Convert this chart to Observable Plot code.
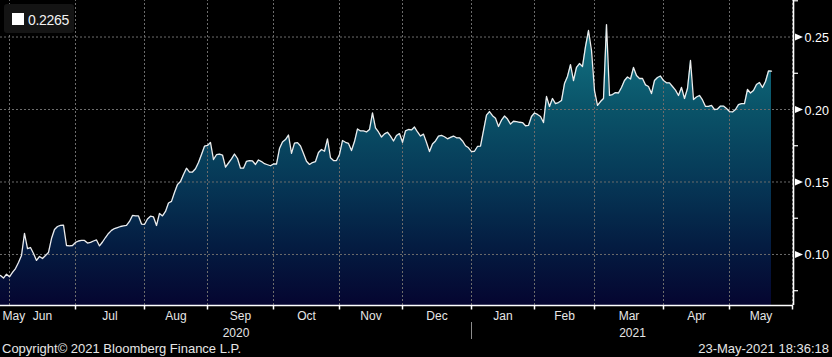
<!DOCTYPE html>
<html><head><meta charset="utf-8">
<script src="https://cdn.jsdelivr.net/npm/d3@7"></script>
<script src="https://cdn.jsdelivr.net/npm/@observablehq/plot@0.6"></script>
<style>
html,body{margin:0;padding:0;background:#000;}
#wrap{position:relative;width:832px;height:357px;overflow:hidden;background:#000;font-family:"Liberation Sans",Arial,sans-serif;}
#chart svg{display:block;}
#legend{position:absolute;left:4px;top:4px;width:70px;height:29px;background:#141414;border-radius:3px;}
#legend .sw{position:absolute;left:8px;top:9px;width:12px;height:12px;background:#fff;}
#legend .tx{position:absolute;left:24px;top:8px;font-size:14px;line-height:17px;color:#f2f2f2;letter-spacing:-0.3px;}
#footer{position:relative;height:17px;font-size:13px;line-height:17px;color:#e6e6e6;}
#footer .l{position:absolute;left:2px;top:0;}
#footer .r{position:absolute;right:3px;top:0;}
</style></head><body>
<div id="wrap">
  <div id="chart"></div>
  <div id="footer"><span class="l"></span><span class="r"></span></div>
  <div id="legend"><div class="sw"></div><div class="tx"></div></div>
</div>
<script>
// ---- data (one value per trading day, starting at startDate) ----
const startDate = "2020-05-27";
const axisEndDate = "2021-06-01";
const values = [
0.0855,0.0837,0.0864,0.0846,0.0876,0.0903,0.0945,0.0993,0.1145,0.1041,
0.1048,0.1007,0.0959,0.0986,0.0972,0.0993,0.1014,0.1110,0.1172,0.1193,
0.1200,0.1203,0.1062,0.1059,0.1062,0.1083,0.1093,0.1097,0.1097,0.1079,
0.1083,0.1093,0.1100,0.1059,0.1086,0.1117,0.1145,0.1166,0.1179,0.1186,
0.1193,0.1197,0.1200,0.1228,0.1269,0.1266,0.1266,0.1210,0.1207,0.1245,
0.1264,0.1259,0.1200,0.1283,0.1266,0.1297,0.1355,0.1366,0.1428,0.1483,
0.1503,0.1552,0.1595,0.1568,0.1569,0.1591,0.1634,0.1690,0.1747,0.1752,
0.1772,0.1655,0.1688,0.1693,0.1686,0.1602,0.1631,0.1659,0.1693,0.1662,
0.1595,0.1595,0.1643,0.1648,0.1645,0.1621,0.1652,0.1641,0.1626,0.1619,
0.1612,0.1624,0.1624,0.1731,0.1776,0.1793,0.1824,0.1697,0.1768,0.1772,
0.1748,0.1697,0.1643,0.1621,0.1634,0.1641,0.1703,0.1724,0.1712,0.1797,
0.1667,0.1648,0.1648,0.1690,0.1786,0.1774,0.1766,0.1717,0.1779,0.1866,
0.1852,0.1852,0.1845,0.1862,0.1976,0.1874,0.1845,0.1810,0.1832,0.1843,
0.1817,0.1783,0.1821,0.1834,0.1774,0.1853,0.1862,0.1859,0.1879,0.1845,
0.1817,0.1830,0.1772,0.1710,0.1762,0.1783,0.1816,0.1821,0.1812,0.1798,
0.1808,0.1817,0.1805,0.1805,0.1783,0.1750,0.1736,0.1710,0.1712,0.1745,
0.1748,0.1855,0.1961,0.1986,0.1957,0.1940,0.1883,0.1926,0.1955,0.1934,
0.1899,0.1919,0.1916,0.1912,0.1910,0.1888,0.1890,0.1952,0.1976,0.1966,
0.1952,0.1910,0.2090,0.2021,0.2076,0.2041,0.2048,0.2062,0.2179,0.2228,
0.2310,0.2200,0.2290,0.2317,0.2297,0.2434,0.2545,0.2407,0.2131,0.2028,
0.2055,0.2076,0.2586,0.2097,0.2103,0.2117,0.2114,0.2152,0.2200,0.2224,
0.2210,0.2290,0.2234,0.2214,0.2214,0.2170,0.2159,0.2110,0.2200,0.2221,
0.2231,0.2200,0.2184,0.2184,0.2159,0.2134,0.2097,0.2152,0.2076,0.2145,
0.2338,0.2069,0.2086,0.2097,0.2066,0.2021,0.2021,0.2028,0.2000,0.2003,
0.2024,0.2024,0.2007,0.1986,0.1983,0.2000,0.2034,0.2041,0.2041,0.2138,
0.2114,0.2131,0.2172,0.2186,0.2152,0.2193,0.2266,0.2265
];
const monthLabels = ["May","Jun","Jul","Aug","Sep","Oct","Nov","Dec","Jan","Feb","Mar","Apr","May"];
const yearLabels = ["2020","2021"];
const yTicks = [0.10, 0.15, 0.20, 0.25];
const yMinorTicks = [0.075, 0.125, 0.175, 0.225, 0.275];
const legendValue = "0.2265";
const copyrightText = "Copyright\u00A9 2021 Bloomberg Finance L.P.";
const timestampText = "23-May-2021 18:36:18";

// ---- trading-day calendar ----
const parse = d3.utcParse("%Y-%m-%d");
const t0 = parse(startDate), tEnd = parse(axisEndDate);
const dates = [];
for (let d = t0; d <= tEnd; d = d3.utcDay.offset(d, 1)) {
  const w = d.getUTCDay();
  if (w !== 0 && w !== 6) dates.push(d);
}
const data = values.map((v, i) => ({i, v, date: dates[i]}));
const monthStarts = [];
for (let k = 1; k < dates.length; k++) if (dates[k].getUTCMonth() !== dates[k-1].getUTCMonth()) monthStarts.push(k);
const bounds = [0, ...monthStarts];
const monthLabelData = monthLabels.map((label, k) => ({label, x: (bounds[k] + bounds[k+1]) / 2}));
const yearStart = dates.findIndex(d => d.getUTCFullYear() === 2021);

const W = 832, H = 340, plotRight = 793, plotBottom = 305;
const xMax = (dates.length - 1) + 1/3;
const yMin = 0.0648, yMax = 0.2752;
const pxX = xMax / plotRight, pxY = (yMax - yMin) / plotBottom;
const fmt = d3.format(".2f");
const gridCol = "#6c6c6c";

const triRight = {draw(ctx, size) { const k = Math.sqrt(size / 28.27); ctx.moveTo(0, -3.5*k); ctx.lineTo(8*k, 0); ctx.lineTo(0, 3.5*k); ctx.closePath(); }};

const svg = Plot.plot({
  width: W, height: H,
  marginLeft: 0, marginRight: W - plotRight, marginTop: 0, marginBottom: H - plotBottom,
  style: {background: "#000", color: "#fff", fontFamily: "'Liberation Sans', Arial, sans-serif", overflow: "visible"},
  x: {domain: [0, xMax], axis: null},
  y: {domain: [yMin, yMax], axis: null},
  marks: [
    Plot.areaY(data, {x: "i", y1: yMin, y2: "v", fill: "url(#bbgGrad)"}),
    Plot.ruleY(yTicks, {stroke: gridCol, strokeDasharray: "2,2", strokeWidth: 1}),
    Plot.ruleX(monthStarts, {y1: yMin, y2: yMax, stroke: gridCol, strokeDasharray: "2,2", strokeWidth: 1}),
    Plot.lineY(data, {x: "i", y: "v", stroke: "#ececec", strokeWidth: 1.3}),
    Plot.ruleY([yMin], {stroke: "#fff", strokeWidth: 1.6}),
    Plot.ruleX([xMax], {y1: yMin, y2: yMax, stroke: "#fff", strokeWidth: 1.6}),
    Plot.ruleX(monthStarts.slice(1), {y1: yMin, y2: yMin - 4.5*pxY, stroke: "#fff", strokeWidth: 1.5}),
    Plot.ruleY(yMinorTicks, {x1: xMax, x2: xMax + 5*pxX, stroke: "#fff", strokeWidth: 1.2}),
    Plot.dot(yTicks, {x: xMax, y: d => d, symbol: triRight, r: 3, fill: "#fff", stroke: "none", dx: 1.5}),
    Plot.text(yTicks, {x: xMax, y: d => d, text: d => fmt(d), dx: 11, dy: 1, textAnchor: "start", fill: "#fff", fontSize: 12.5}),
    Plot.text(monthLabelData.slice(0, 1), {x: 0, y: yMin, text: "label", dx: 2, dy: 10.7, textAnchor: "start", fill: "#e6e6e6", fontSize: 12}),
    Plot.text(monthLabelData.slice(1), {x: "x", y: yMin, text: "label", dy: 10.7, fill: "#e6e6e6", fontSize: 12}),
    Plot.text(yearLabels, {x: (d, k) => k === 0 ? yearStart / 2 : (yearStart + xMax) / 2, y: yMin, text: d => d, dy: 27.2, fill: "#e6e6e6", fontSize: 12}),
    Plot.ruleX([yearStart], {y1: yMin - 17*pxY, y2: yMin - 34*pxY, stroke: "#8c8c8c", strokeWidth: 1})
  ]
});

const defs = d3.select(svg).insert("defs", ":first-child");
const grad = defs.append("linearGradient").attr("id", "bbgGrad")
  .attr("gradientUnits", "userSpaceOnUse").attr("x1", 0).attr("y1", 0).attr("x2", 0).attr("y2", plotBottom);
[[0, "#16808f"], [0.35, "#0a5469"], [0.6, "#063756"], [0.8, "#041d42"], [1, "#050530"]]
  .forEach(([o, c]) => grad.append("stop").attr("offset", o).attr("stop-color", c));

document.getElementById("chart").appendChild(svg);
document.querySelector("#legend .tx").textContent = legendValue;
document.querySelector("#footer .l").textContent = copyrightText;
document.querySelector("#footer .r").textContent = timestampText;
</script>
</body></html>
